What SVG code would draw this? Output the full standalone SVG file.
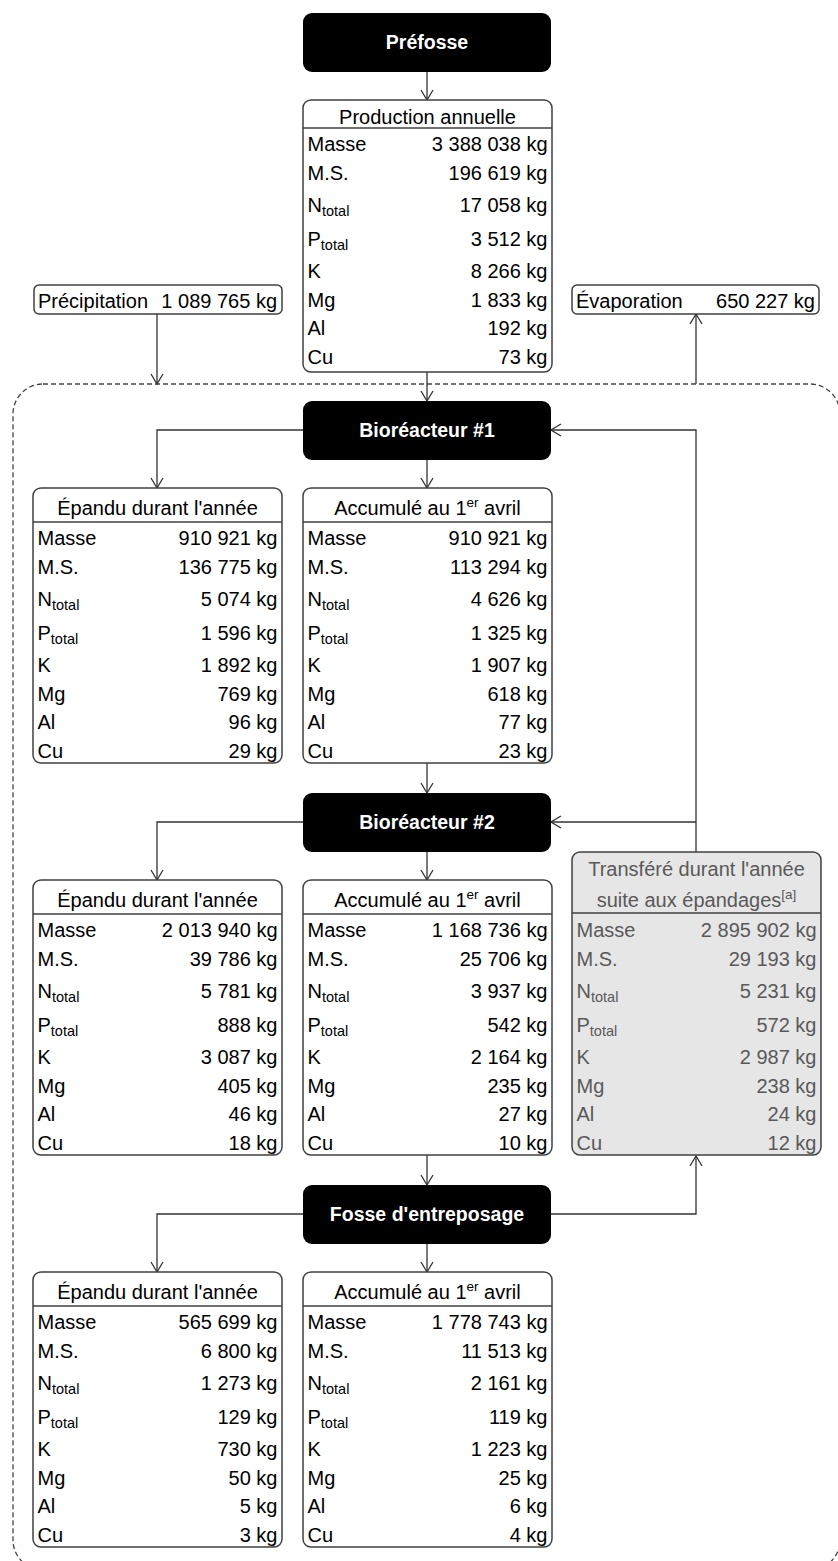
<svg xmlns="http://www.w3.org/2000/svg" width="838" height="1561" viewBox="0 0 838 1561">
<defs>
<style>
.box{fill:#fff;stroke:#404040;stroke-width:1.5}
.gbox{fill:#e6e6e6;stroke:#404040;stroke-width:1.5}
.sep{stroke:#404040;stroke-width:1.5}
.blk{fill:#000}
text{font-family:"Liberation Sans",Arial,sans-serif;font-size:20px;fill:#000}
.r{text-anchor:end}
.c{text-anchor:middle}
.w{fill:#fff;font-weight:bold;font-size:19.5px}
.g{fill:#595959}
.sub{font-size:14.5px}
.sup{font-size:13.5px}
.conn{fill:none;stroke:#333;stroke-width:1.3}
.dash{fill:none;stroke:#444;stroke-width:1.3;stroke-dasharray:5 3}
</style>
<marker id="arr" viewBox="0 0 12 14" refX="11" refY="7" markerWidth="12" markerHeight="14" markerUnits="userSpaceOnUse" orient="auto">
<path d="M1,1 L11,7 L1,13" fill="none" stroke="#333" stroke-width="1.3"/>
</marker>
</defs>

<rect class="dash" x="13" y="384" width="827" height="1186" rx="30"/>

<g id="connectors">
<path class="conn" d="M427,72 V100" marker-end="url(#arr)"/>
<path class="conn" d="M427,372 V401" marker-end="url(#arr)"/>
<path class="conn" d="M157,314 V384" marker-end="url(#arr)"/>
<path class="conn" d="M696,384 V314" marker-end="url(#arr)"/>
<path class="conn" d="M303,430 H157 V488" marker-end="url(#arr)"/>
<path class="conn" d="M427,460 V488" marker-end="url(#arr)"/>
<path class="conn" d="M696,852 V430 H551" marker-end="url(#arr)"/>
<path class="conn" d="M696,822 H551" marker-end="url(#arr)"/>
<path class="conn" d="M427,763 V793" marker-end="url(#arr)"/>
<path class="conn" d="M303,822 H157 V880" marker-end="url(#arr)"/>
<path class="conn" d="M427,852 V880" marker-end="url(#arr)"/>
<path class="conn" d="M427,1155 V1185" marker-end="url(#arr)"/>
<path class="conn" d="M303,1214 H157 V1272" marker-end="url(#arr)"/>
<path class="conn" d="M427,1244 V1272" marker-end="url(#arr)"/>
<path class="conn" d="M551,1214 H696 V1156" marker-end="url(#arr)"/>
</g>

<g id="prefosse">
<rect class="blk" x="303" y="13" width="248" height="59" rx="9"/>
<text class="c w" x="427" y="49">Préfosse</text>
</g>

<g id="production" transform="translate(303,100)">
<rect class="box" x="0" y="0" width="249" height="272" rx="8"/>
<line class="sep" x1="0" y1="28" x2="249" y2="28"/>
<text class="c" x="124.5" y="24">Production annuelle</text>
<text x="4.5" y="51">Masse</text><text class="r" x="244.5" y="51">3 388 038 kg</text>
<text x="4.5" y="80">M.S.</text><text class="r" x="244.5" y="80">196 619 kg</text>
<text x="4.5" y="112">N<tspan class="sub" dy="4">total</tspan></text><text class="r" x="244.5" y="112">17 058 kg</text>
<text x="4.5" y="146">P<tspan class="sub" dy="4">total</tspan></text><text class="r" x="244.5" y="146">3 512 kg</text>
<text x="4.5" y="178">K</text><text class="r" x="244.5" y="178">8 266 kg</text>
<text x="4.5" y="207">Mg</text><text class="r" x="244.5" y="207">1 833 kg</text>
<text x="4.5" y="235">Al</text><text class="r" x="244.5" y="235">192 kg</text>
<text x="4.5" y="264">Cu</text><text class="r" x="244.5" y="264">73 kg</text>
</g>

<g id="precipitation">
<rect class="box" x="34" y="285" width="248" height="29" rx="5"/>
<text x="38" y="308">Précipitation</text>
<text class="r" x="277" y="308">1 089 765 kg</text>
</g>

<g id="evaporation">
<rect class="box" x="572" y="285" width="247" height="29" rx="5"/>
<text x="576" y="308">Évaporation</text>
<text class="r" x="815" y="308">650 227 kg</text>
</g>

<g id="bioreacteur1">
<rect class="blk" x="303" y="401" width="248" height="59" rx="9"/>
<text class="c w" x="427" y="437">Bioréacteur #1</text>
</g>

<g id="epandu1" transform="translate(33,488)">
<rect class="box" x="0" y="0" width="249" height="275" rx="8"/>
<line class="sep" x1="0" y1="34" x2="249" y2="34"/>
<text class="c" x="124.5" y="27">Épandu durant l'année</text>
<text x="4.5" y="57">Masse</text><text class="r" x="244.5" y="57">910 921 kg</text>
<text x="4.5" y="86">M.S.</text><text class="r" x="244.5" y="86">136 775 kg</text>
<text x="4.5" y="118">N<tspan class="sub" dy="4">total</tspan></text><text class="r" x="244.5" y="118">5 074 kg</text>
<text x="4.5" y="152">P<tspan class="sub" dy="4">total</tspan></text><text class="r" x="244.5" y="152">1 596 kg</text>
<text x="4.5" y="184">K</text><text class="r" x="244.5" y="184">1 892 kg</text>
<text x="4.5" y="213">Mg</text><text class="r" x="244.5" y="213">769 kg</text>
<text x="4.5" y="241">Al</text><text class="r" x="244.5" y="241">96 kg</text>
<text x="4.5" y="270">Cu</text><text class="r" x="244.5" y="270">29 kg</text>
</g>

<g id="accumule1" transform="translate(303,488)">
<rect class="box" x="0" y="0" width="249" height="275" rx="8"/>
<line class="sep" x1="0" y1="34" x2="249" y2="34"/>
<text class="c" x="124.5" y="27">Accumulé au 1<tspan class="sup" dy="-8">er</tspan><tspan dy="8"> avril</tspan></text>
<text x="4.5" y="57">Masse</text><text class="r" x="244.5" y="57">910 921 kg</text>
<text x="4.5" y="86">M.S.</text><text class="r" x="244.5" y="86">113 294 kg</text>
<text x="4.5" y="118">N<tspan class="sub" dy="4">total</tspan></text><text class="r" x="244.5" y="118">4 626 kg</text>
<text x="4.5" y="152">P<tspan class="sub" dy="4">total</tspan></text><text class="r" x="244.5" y="152">1 325 kg</text>
<text x="4.5" y="184">K</text><text class="r" x="244.5" y="184">1 907 kg</text>
<text x="4.5" y="213">Mg</text><text class="r" x="244.5" y="213">618 kg</text>
<text x="4.5" y="241">Al</text><text class="r" x="244.5" y="241">77 kg</text>
<text x="4.5" y="270">Cu</text><text class="r" x="244.5" y="270">23 kg</text>
</g>

<g id="bioreacteur2">
<rect class="blk" x="303" y="793" width="248" height="59" rx="9"/>
<text class="c w" x="427" y="829">Bioréacteur #2</text>
</g>

<g id="epandu2" transform="translate(33,880)">
<rect class="box" x="0" y="0" width="249" height="275" rx="8"/>
<line class="sep" x1="0" y1="34" x2="249" y2="34"/>
<text class="c" x="124.5" y="27">Épandu durant l'année</text>
<text x="4.5" y="57">Masse</text><text class="r" x="244.5" y="57">2 013 940 kg</text>
<text x="4.5" y="86">M.S.</text><text class="r" x="244.5" y="86">39 786 kg</text>
<text x="4.5" y="118">N<tspan class="sub" dy="4">total</tspan></text><text class="r" x="244.5" y="118">5 781 kg</text>
<text x="4.5" y="152">P<tspan class="sub" dy="4">total</tspan></text><text class="r" x="244.5" y="152">888 kg</text>
<text x="4.5" y="184">K</text><text class="r" x="244.5" y="184">3 087 kg</text>
<text x="4.5" y="213">Mg</text><text class="r" x="244.5" y="213">405 kg</text>
<text x="4.5" y="241">Al</text><text class="r" x="244.5" y="241">46 kg</text>
<text x="4.5" y="270">Cu</text><text class="r" x="244.5" y="270">18 kg</text>
</g>

<g id="accumule2" transform="translate(303,880)">
<rect class="box" x="0" y="0" width="249" height="275" rx="8"/>
<line class="sep" x1="0" y1="34" x2="249" y2="34"/>
<text class="c" x="124.5" y="27">Accumulé au 1<tspan class="sup" dy="-8">er</tspan><tspan dy="8"> avril</tspan></text>
<text x="4.5" y="57">Masse</text><text class="r" x="244.5" y="57">1 168 736 kg</text>
<text x="4.5" y="86">M.S.</text><text class="r" x="244.5" y="86">25 706 kg</text>
<text x="4.5" y="118">N<tspan class="sub" dy="4">total</tspan></text><text class="r" x="244.5" y="118">3 937 kg</text>
<text x="4.5" y="152">P<tspan class="sub" dy="4">total</tspan></text><text class="r" x="244.5" y="152">542 kg</text>
<text x="4.5" y="184">K</text><text class="r" x="244.5" y="184">2 164 kg</text>
<text x="4.5" y="213">Mg</text><text class="r" x="244.5" y="213">235 kg</text>
<text x="4.5" y="241">Al</text><text class="r" x="244.5" y="241">27 kg</text>
<text x="4.5" y="270">Cu</text><text class="r" x="244.5" y="270">10 kg</text>
</g>

<g id="transfere" transform="translate(572,852)">
<rect class="gbox" x="0" y="0" width="249" height="303" rx="8"/>
<line class="sep" x1="0" y1="61" x2="249" y2="61"/>
<text class="c g" x="124.5" y="24">Transféré durant l'année</text>
<text class="c g" x="124.5" y="55">suite aux épandages<tspan class="sup" dy="-8">[a]</tspan></text>
<text class="g" x="4.5" y="85">Masse</text><text class="r g" x="244.5" y="85">2 895 902 kg</text>
<text class="g" x="4.5" y="114">M.S.</text><text class="r g" x="244.5" y="114">29 193 kg</text>
<text class="g" x="4.5" y="146">N<tspan class="sub" dy="4">total</tspan></text><text class="r g" x="244.5" y="146">5 231 kg</text>
<text class="g" x="4.5" y="180">P<tspan class="sub" dy="4">total</tspan></text><text class="r g" x="244.5" y="180">572 kg</text>
<text class="g" x="4.5" y="212">K</text><text class="r g" x="244.5" y="212">2 987 kg</text>
<text class="g" x="4.5" y="241">Mg</text><text class="r g" x="244.5" y="241">238 kg</text>
<text class="g" x="4.5" y="269">Al</text><text class="r g" x="244.5" y="269">24 kg</text>
<text class="g" x="4.5" y="298">Cu</text><text class="r g" x="244.5" y="298">12 kg</text>
</g>

<g id="fosse">
<rect class="blk" x="303" y="1185" width="248" height="59" rx="9"/>
<text class="c w" x="427" y="1221">Fosse d'entreposage</text>
</g>

<g id="epandu3" transform="translate(33,1272)">
<rect class="box" x="0" y="0" width="249" height="275" rx="8"/>
<line class="sep" x1="0" y1="34" x2="249" y2="34"/>
<text class="c" x="124.5" y="27">Épandu durant l'année</text>
<text x="4.5" y="57">Masse</text><text class="r" x="244.5" y="57">565 699 kg</text>
<text x="4.5" y="86">M.S.</text><text class="r" x="244.5" y="86">6 800 kg</text>
<text x="4.5" y="118">N<tspan class="sub" dy="4">total</tspan></text><text class="r" x="244.5" y="118">1 273 kg</text>
<text x="4.5" y="152">P<tspan class="sub" dy="4">total</tspan></text><text class="r" x="244.5" y="152">129 kg</text>
<text x="4.5" y="184">K</text><text class="r" x="244.5" y="184">730 kg</text>
<text x="4.5" y="213">Mg</text><text class="r" x="244.5" y="213">50 kg</text>
<text x="4.5" y="241">Al</text><text class="r" x="244.5" y="241">5 kg</text>
<text x="4.5" y="270">Cu</text><text class="r" x="244.5" y="270">3 kg</text>
</g>

<g id="accumule3" transform="translate(303,1272)">
<rect class="box" x="0" y="0" width="249" height="275" rx="8"/>
<line class="sep" x1="0" y1="34" x2="249" y2="34"/>
<text class="c" x="124.5" y="27">Accumulé au 1<tspan class="sup" dy="-8">er</tspan><tspan dy="8"> avril</tspan></text>
<text x="4.5" y="57">Masse</text><text class="r" x="244.5" y="57">1 778 743 kg</text>
<text x="4.5" y="86">M.S.</text><text class="r" x="244.5" y="86">11 513 kg</text>
<text x="4.5" y="118">N<tspan class="sub" dy="4">total</tspan></text><text class="r" x="244.5" y="118">2 161 kg</text>
<text x="4.5" y="152">P<tspan class="sub" dy="4">total</tspan></text><text class="r" x="244.5" y="152">119 kg</text>
<text x="4.5" y="184">K</text><text class="r" x="244.5" y="184">1 223 kg</text>
<text x="4.5" y="213">Mg</text><text class="r" x="244.5" y="213">25 kg</text>
<text x="4.5" y="241">Al</text><text class="r" x="244.5" y="241">6 kg</text>
<text x="4.5" y="270">Cu</text><text class="r" x="244.5" y="270">4 kg</text>
</g>
</svg>
